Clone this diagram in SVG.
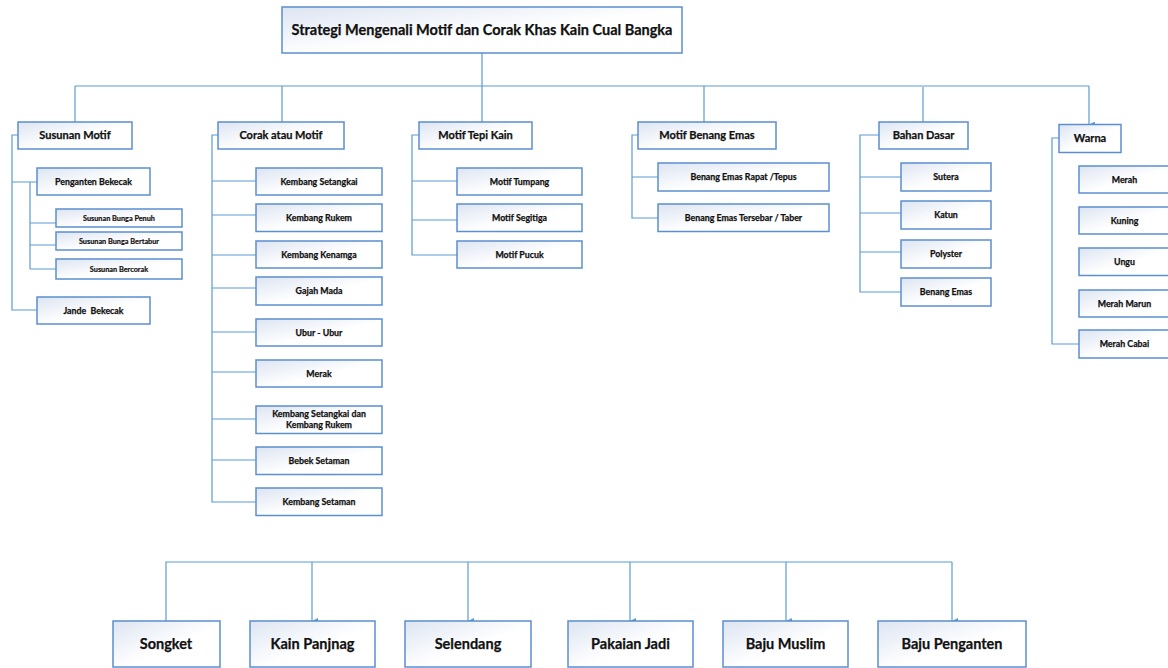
<svg xmlns="http://www.w3.org/2000/svg" width="1168" height="668" viewBox="0 0 1168 668">
<defs>
<linearGradient id="bg" x1="0" y1="0" x2="1" y2="1">
<stop offset="0" stop-color="#dde5f2"/>
<stop offset="0.55" stop-color="#ffffff"/>
<stop offset="1" stop-color="#ffffff"/>
</linearGradient>
<marker id="ah" viewBox="0 0 6 6" refX="3" refY="6" markerWidth="6" markerHeight="6" orient="auto-start-reverse" markerUnits="userSpaceOnUse">
<path d="M0,0 L6,0 L3,6 Z" fill="#5b9bd5"/>
</marker>
<style>
rect.b{fill:url(#bg);stroke:#5b8fcf;stroke-width:1.5}
text{font-family:Lato,"Liberation Sans",sans-serif;font-weight:bold;fill:#111111;stroke:#111111;stroke-width:0.25;text-anchor:middle}
.t0{font-size:14.5px}
.t1{font-size:11px}
.t2{font-size:8.8px}
.t3{font-size:7.3px;stroke-width:0.2}
.tb{font-size:14.5px}
#connectors path,#connectors line{fill:none;stroke:#5b9bd5;stroke-width:1.2}
.arr{marker-end:url(#ah)}
</style>
</defs>
<rect width="1168" height="668" fill="#ffffff"/>
<g id="connectors">
<path d="M482,53 V86 M75,86 H1089 M75,86 V122 M282,86 V122 M482,86 V122 M704,86 V122 M923,87 V122"/>
<path class="arr" d="M1089,86 V124.5"/>
<path d="M18,135 H12 V310 H37 M12,182 H37 M30,182 V269 M30,223 H56 M30,245 H56 M30,269 H56"/>
<path d="M218,135 H212 V502 H256 M212,181 H256 M212,215 H256 M212,255 H256 M212,288 H256 M212,332 H256 M212,372 H256 M212,419 H256 M212,460 H256"/>
<path d="M419,135 H412 V255 H457 M412,181 H457 M412,220 H457"/>
<path d="M638,135 H632 V218 H658 M632,177 H658"/>
<path d="M879,135 H860 V292 H901 M860,177 H901 M860,213 H901 M860,252 H901"/>
<path d="M1059,138 H1052 V344 H1079"/>
<path d="M166,621 V562 H952"/>
<path class="arr" d="M312,562 V621"/>
<path class="arr" d="M468,562 V621"/>
<path class="arr" d="M630,562 V621"/>
<path class="arr" d="M786,562 V621"/>
<path class="arr" d="M952,562 V621"/>
</g>
<g id="title"><rect class="b" x="282" y="7" width="400" height="46"/><text class="t0" x="482" y="35.2">Strategi Mengenali Motif dan Corak Khas Kain Cual Bangka</text></g>
<g id="susunan-motif"><rect class="b" x="18" y="122" width="114" height="27"/><text class="t1" x="75" y="139.4">Susunan Motif</text></g>
<g id="corak-atau-motif"><rect class="b" x="218" y="122" width="126" height="27"/><text class="t1" x="281" y="139.4">Corak atau Motif</text></g>
<g id="motif-tepi-kain"><rect class="b" x="419" y="122" width="113" height="27"/><text class="t1" x="475.5" y="139.4">Motif Tepi Kain</text></g>
<g id="motif-benang-emas"><rect class="b" x="638" y="122" width="138" height="27"/><text class="t1" x="707" y="139.4">Motif Benang Emas</text></g>
<g id="bahan-dasar"><rect class="b" x="879" y="122" width="89" height="27"/><text class="t1" x="923.5" y="139.4">Bahan Dasar</text></g>
<g id="warna"><rect class="b" x="1059" y="124.5" width="62" height="28"/><text class="t1" x="1090" y="142.4">Warna</text></g>
<g id="penganten-bekecak"><rect class="b" x="37" y="168" width="113" height="27"/><text class="t2" x="93.5" y="184.7">Penganten Bekecak</text></g>
<g id="susunan-bunga-penuh"><rect class="b" x="56" y="209" width="126" height="18"/><text class="t3" x="119" y="220.6">Susunan Bunga Penuh</text></g>
<g id="susunan-bunga-bertabur"><rect class="b" x="56" y="232" width="126" height="18"/><text class="t3" x="119" y="243.6">Susunan Bunga Bertabur</text></g>
<g id="susunan-bercorak"><rect class="b" x="56" y="259" width="126" height="20"/><text class="t3" x="119" y="271.6">Susunan Bercorak</text></g>
<g id="jande-bekecak"><rect class="b" x="37" y="297" width="113" height="27"/><text class="t2" x="93.5" y="313.7" xml:space="preserve">Jande  Bekecak</text></g>
<g id="kembang-setangkai"><rect class="b" x="256" y="168" width="126" height="27"/><text class="t2" x="319" y="184.7">Kembang Setangkai</text></g>
<g id="kembang-rukem"><rect class="b" x="256" y="204" width="126" height="27.5"/><text class="t2" x="319" y="220.9">Kembang Rukem</text></g>
<g id="kembang-kenamga"><rect class="b" x="256" y="241" width="126" height="27"/><text class="t2" x="319" y="257.7">Kembang Kenamga</text></g>
<g id="gajah-mada"><rect class="b" x="256" y="277" width="126" height="28"/><text class="t2" x="319" y="294.2">Gajah Mada</text></g>
<g id="ubur-ubur"><rect class="b" x="256" y="319" width="126" height="27"/><text class="t2" x="319" y="335.7">Ubur - Ubur</text></g>
<g id="merak"><rect class="b" x="256" y="360" width="126" height="27"/><text class="t2" x="319" y="376.7">Merak</text></g>
<g id="kembang-setangkai-dan-kembang-rukem"><rect class="b" x="256" y="406" width="126" height="27.5"/><text class="t2" x="319" y="416.8">Kembang Setangkai dan</text><text class="t2" x="319" y="428.2">Kembang Rukem</text></g>
<g id="bebek-setaman"><rect class="b" x="256" y="447" width="126" height="27.5"/><text class="t2" x="319" y="463.9">Bebek Setaman</text></g>
<g id="kembang-setaman"><rect class="b" x="256" y="488" width="126" height="27.5"/><text class="t2" x="319" y="504.9">Kembang Setaman</text></g>
<g id="motif-tumpang"><rect class="b" x="457" y="168" width="125" height="27"/><text class="t2" x="519.5" y="184.7">Motif Tumpang</text></g>
<g id="motif-segitiga"><rect class="b" x="457" y="204" width="125" height="27.5"/><text class="t2" x="519.5" y="220.9">Motif Segitiga</text></g>
<g id="motif-pucuk"><rect class="b" x="457" y="241" width="125" height="27"/><text class="t2" x="519.5" y="257.7">Motif Pucuk</text></g>
<g id="benang-emas-rapat"><rect class="b" x="658" y="163" width="171" height="28"/><text class="t2" x="743.5" y="180.2">Benang Emas Rapat /Tepus</text></g>
<g id="benang-emas-tersebar"><rect class="b" x="658" y="204" width="171" height="27.5"/><text class="t2" x="743.5" y="220.9">Benang Emas Tersebar / Taber</text></g>
<g id="sutera"><rect class="b" x="901" y="163" width="90" height="28"/><text class="t2" x="946" y="180.2">Sutera</text></g>
<g id="katun"><rect class="b" x="901" y="201" width="90" height="28"/><text class="t2" x="946" y="218.2">Katun</text></g>
<g id="polyster"><rect class="b" x="901" y="240" width="90" height="28"/><text class="t2" x="946" y="257.2">Polyster</text></g>
<g id="benang-emas"><rect class="b" x="901" y="278" width="90" height="28"/><text class="t2" x="946" y="295.2">Benang Emas</text></g>
<g id="merah"><rect class="b" x="1079" y="166" width="90" height="27"/><text class="t2" x="1124.5" y="182.7">Merah</text></g>
<g id="kuning"><rect class="b" x="1079" y="207" width="90" height="27"/><text class="t2" x="1124.5" y="223.7">Kuning</text></g>
<g id="ungu"><rect class="b" x="1079" y="248" width="90" height="27.5"/><text class="t2" x="1124.5" y="264.9">Ungu</text></g>
<g id="merah-marun"><rect class="b" x="1079" y="290" width="90" height="27"/><text class="t2" x="1124.5" y="306.7">Merah Marun</text></g>
<g id="merah-cabai"><rect class="b" x="1079" y="330" width="90" height="28"/><text class="t2" x="1124.5" y="347.2">Merah Cabai</text></g>
<g id="songket"><rect class="b" x="113" y="621" width="107" height="46"/><text class="tb" x="166" y="649.2">Songket</text></g>
<g id="kain-panjnag"><rect class="b" x="250" y="621" width="125" height="46"/><text class="tb" x="312.5" y="649.2">Kain Panjnag</text></g>
<g id="selendang"><rect class="b" x="405" y="621" width="126" height="46"/><text class="tb" x="468" y="649.2">Selendang</text></g>
<g id="pakaian-jadi"><rect class="b" x="568" y="621" width="125" height="46"/><text class="tb" x="630.5" y="649.2">Pakaian Jadi</text></g>
<g id="baju-muslim"><rect class="b" x="723" y="621" width="125" height="46"/><text class="tb" x="785.5" y="649.2">Baju Muslim</text></g>
<g id="baju-penganten"><rect class="b" x="878" y="621" width="148" height="46"/><text class="tb" x="952" y="649.2">Baju Penganten</text></g>
</svg>
